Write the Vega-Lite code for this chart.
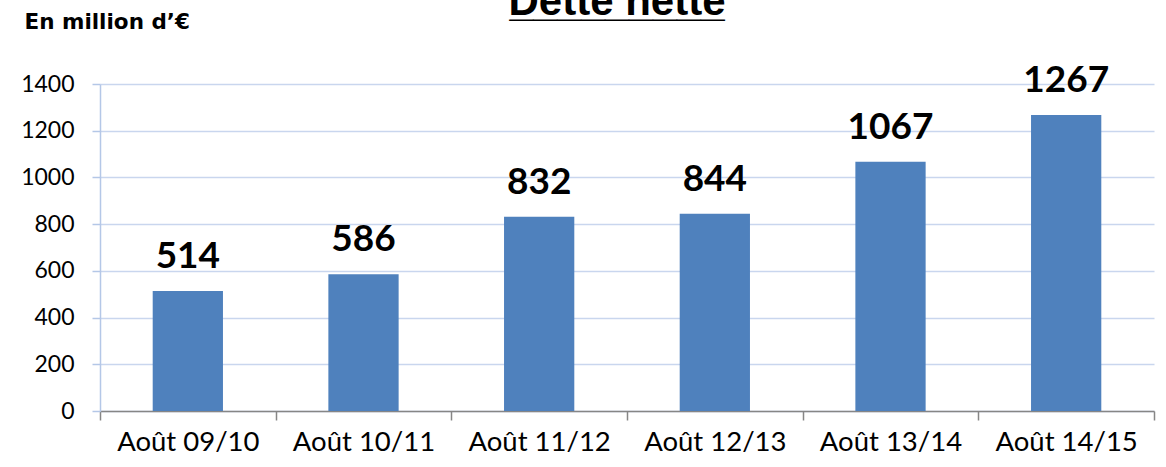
{
  "$schema": "https://vega.github.io/schema/vega-lite/v6.json",
  "autosize": {"type": "none"},
  "width": 1054,
  "height": 327,
  "padding": {"left": 100, "top": 84, "right": 12, "bottom": 56},
  "background": "white",
  "title": {
    "text": "Dette nette",
    "subtitle": "_________",
    "font": "Liberation Sans",
    "fontSize": 42,
    "fontWeight": "bold",
    "color": "#000000",
    "subtitleFont": "Liberation Sans",
    "subtitleFontSize": 43,
    "subtitleFontWeight": "bold",
    "subtitleColor": "#000000",
    "subtitlePadding": -42,
    "anchor": "middle",
    "offset": -15,
    "dx": -10
  },
  "data": {
    "values": [
      {"periode": "Août 09/10", "dette": 514},
      {"periode": "Août 10/11", "dette": 586},
      {"periode": "Août 11/12", "dette": 832},
      {"periode": "Août 12/13", "dette": 844},
      {"periode": "Août 13/14", "dette": 1067},
      {"periode": "Août 14/15", "dette": 1267}
    ]
  },
  "config": {"view": {"stroke": null}},
  "encoding": {
    "x": {
      "field": "periode",
      "type": "nominal",
      "sort": null,
      "scale": {"paddingInner": 0, "paddingOuter": 0},
      "axis": {
        "title": null,
        "labelAngle": 0,
        "labelFont": "Lato",
        "labelFontSize": 27.5,
        "labelColor": "#000000",
        "labelPadding": 8,
        "domainColor": "#868686",
        "domainWidth": 1.5,
        "tickColor": "#868686",
        "tickWidth": 1.5,
        "tickSize": 9,
        "tickBand": "extent",
        "grid": false
      }
    },
    "y": {
      "field": "dette",
      "type": "quantitative",
      "scale": {"domain": [0, 1400], "nice": false},
      "axis": {
        "values": [0, 200, 400, 600, 800, 1000, 1200, 1400],
        "format": "d",
        "title": "En million d’€",
        "titleAngle": 0,
        "titleAlign": "left",
        "titleBaseline": "middle",
        "titleX": -76,
        "titleY": -62,
        "titleFont": "DejaVu Sans",
        "titleFontSize": 21.5,
        "titleFontWeight": "bold",
        "titleColor": "#000000",
        "labelFont": "Lato",
        "labelFontSize": 23,
        "labelColor": "#000000",
        "labelPadding": 18,
        "domainColor": "#B4C7E7",
        "domainWidth": 1.5,
        "tickColor": "#B4C7E7",
        "tickWidth": 1.5,
        "tickSize": 8,
        "grid": true,
        "gridColor": "#C9D6EE",
        "gridWidth": 1.5
      }
    }
  },
  "layer": [
    {"mark": {"type": "bar", "color": "#4F81BD", "width": {"band": 0.4}}},
    {
      "mark": {
        "type": "text",
        "baseline": "alphabetic",
        "dy": -23,
        "font": "Lato",
        "fontSize": 37,
        "fontWeight": "bold",
        "color": "#000000"
      },
      "encoding": {"text": {"field": "dette", "type": "quantitative"}}
    }
  ]
}
